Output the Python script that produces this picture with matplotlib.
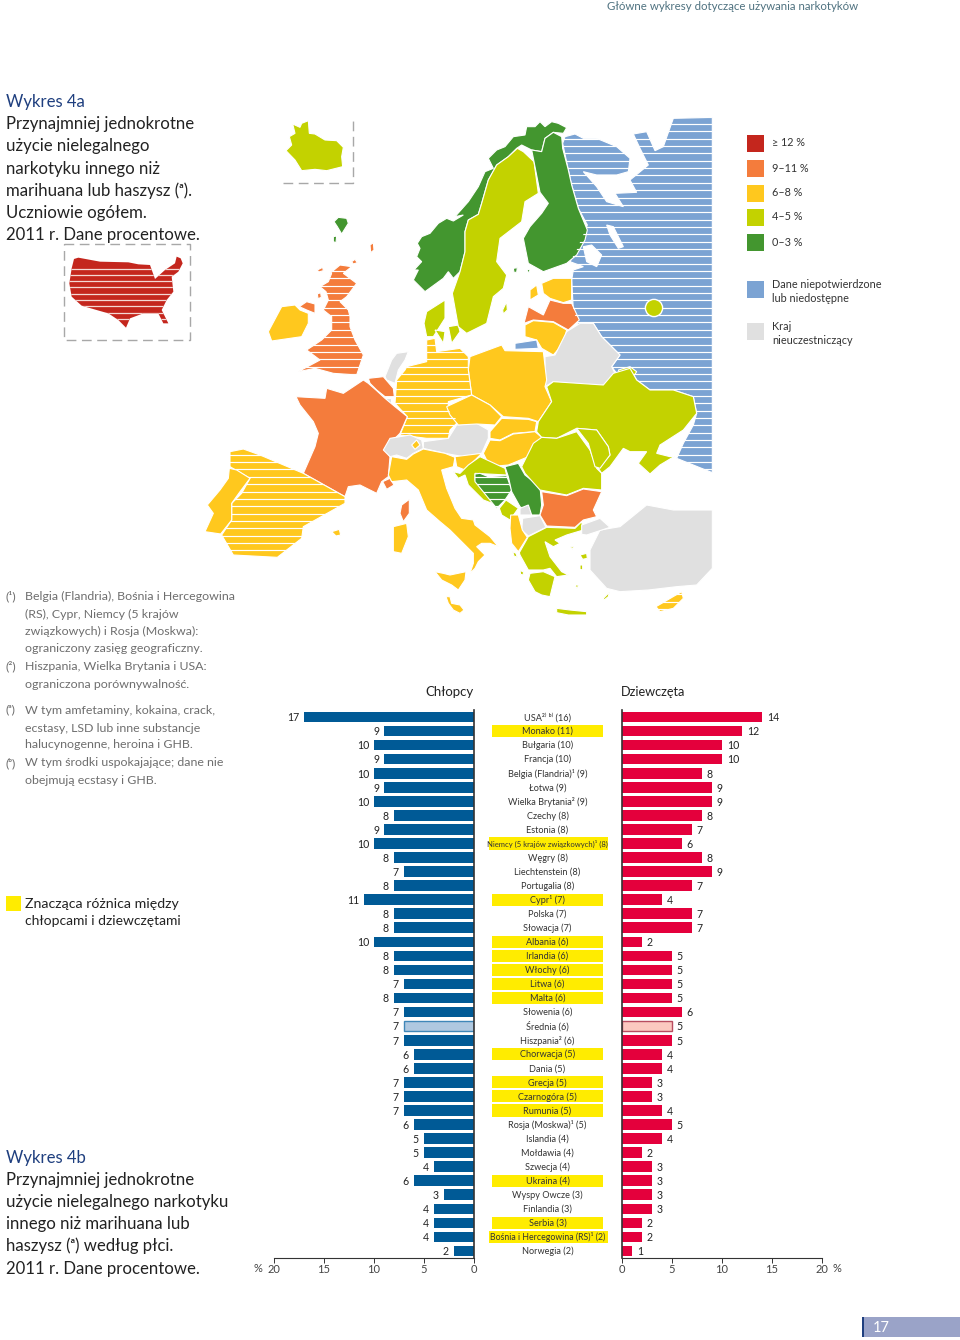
import numpy as np
import matplotlib
matplotlib.use('Agg')
import matplotlib.pyplot as plt
from matplotlib.patches import Polygon, Rectangle, Circle
from matplotlib.collections import LineCollection

plt.rcParams['font.family'] = ['Lato', 'DejaVu Sans']

# bar chart data, sorted like the reference
countries = ['USA²⁾ ᵇ⁾ (16)', 'Monako (11)', 'Bułgaria (10)', 'Francja (10)', 'Belgia (Flandria)¹ (9)',
             'Łotwa (9)', 'Wielka Brytania² (9)', 'Czechy (8)', 'Estonia (8)',
             'Niemcy (5 krajów związkowych)¹ (8)', 'Węgry (8)', 'Liechtenstein (8)', 'Portugalia (8)',
             'Cypr¹ (7)', 'Polska (7)', 'Słowacja (7)', 'Albania (6)', 'Irlandia (6)', 'Włochy (6)',
             'Litwa (6)', 'Malta (6)', 'Słowenia (6)', 'Średnia (6)', 'Hiszpania² (6)', 'Chorwacja (5)',
             'Dania (5)', 'Grecja (5)', 'Czarnogóra (5)', 'Rumunia (5)', 'Rosja (Moskwa)¹ (5)',
             'Islandia (4)', 'Mołdawia (4)', 'Szwecja (4)', 'Ukraina (4)', 'Wyspy Owcze (3)',
             'Finlandia (3)', 'Serbia (3)', 'Bośnia i Hercegowina (RS)¹ (2)', 'Norwegia (2)']
boys = [17, 9, 10, 9, 10, 9, 10, 8, 9, 10, 8, 7, 8, 11, 8, 8, 10, 8, 8, 7, 8, 7, 7, 7, 6, 6, 7, 7, 7, 6,
        5, 5, 4, 6, 3, 4, 4, 4, 2]
girls = [14, 12, 10, 10, 8, 9, 9, 8, 7, 6, 8, 9, 7, 4, 7, 7, 2, 5, 5, 5, 5, 6, 5, 5, 4, 4, 3, 3, 4, 5,
         4, 2, 3, 3, 3, 3, 2, 2, 1]
significant = ['Monako', 'Niemcy', 'Cypr', 'Albania', 'Irlandia', 'Włochy', 'Litwa', 'Malta', 'Chorwacja',
               'Grecja', 'Czarnogóra', 'Rumunia', 'Ukraina', 'Serbia', 'Bośnia']
wide_labels = ['Niemcy', 'Bośnia']
ticks = [0, 5, 10, 15, 20]

# legend of the map
legend_labels = ['≥ 12 %', '9–11 %', '6–8 %', '4–5 %', '0–3 %']
legend_keys = ['red', 'orange', 'yellow', 'lime', 'green']

COLORS = {'red': '#C4261D', 'orange': '#F47C3C', 'yellow': '#FFC81E', 'lime': '#C3D200',
          'green': '#43962F', 'blue': '#7BA3D3', 'grey': '#E0E0E0', 'white': 'white'}

# map outlines, traced in a 3x crop with origin (200, 110)
north_shapes = [
    ('blue', True, [(1095,80),(1125,72),(1150,85),(1190,85),(1250,110),(1290,145),(1285,185),(1250,195),(1190,195),(1150,185),(1190,230),(1220,275),(1270,290),(1245,250),(1310,247),(1290,210),(1345,165),(1320,115),(1300,72),(1340,65),(1365,122),(1390,110),(1420,25),(1537,22),(1537,1088),(1430,1045),(1450,1000),(1480,945),(1490,910),(1480,860),(1420,840),(1350,840),(1310,810),(1290,775),(1250,790),(1235,770),(1260,735),(1205,680),(1180,640),(1135,645),(1120,600),(1115,510),(1120,480),(1150,470),(1110,455),(1130,420),(1162,345),(1135,295),(1115,225),(1105,180),(1088,100)]),
    ('white', False, [(1150,410),(1175,405),(1205,435),(1190,470),(1160,455)]),
    ('white', False, [(1220,345),(1240,350),(1270,410),(1255,415),(1230,375)]),
    ('lime', False, [(258,122),(275,105),(268,80),(285,70),(278,42),(300,52),(305,40),(325,32),(328,70),(345,72),(375,90),(410,92),(430,112),(425,140),(428,170),(380,182),(345,178),(305,182),(285,150)]),
    ('green', False, [(402,335),(415,322),(440,325),(445,340),(425,372),(412,350)]),
    ('green', False, [(400,380),(410,378),(408,398),(400,395)]),
    ('orange', False, [(510,405),(520,398),(522,420),(512,428)]),
    ('lime', False, [(908,600),(920,575),(922,600),(910,612)]),
    ('yellow', False, [(1025,520),(1060,505),(1115,505),(1115,570),(1090,578),(1050,565),(1030,550)]),
    ('yellow', False, [(990,540),(1010,525),(1015,555),(990,570)]),
    ('orange', False, [(972,640),(985,590),(1030,615),(1050,570),(1090,580),(1115,580),(1138,630),(1105,660),(1060,635),(1000,630)]),
    ('yellow', False, [(975,645),(1000,632),(1060,637),(1100,660),(1090,700),(1060,735),(1025,715),(1010,690),(975,680)]),
    ('blue', False, [(945,700),(1010,690),(1015,715),(945,718)]),
    ('grey', False, [(1035,740),(1065,735),(1100,665),(1140,640),(1180,640),(1205,680),(1260,735),(1235,770),(1245,790),(1220,825),(1140,825),(1060,815),(1035,830)]),
    ('yellow', False, [(810,740),(905,705),(915,722),(1030,725),(1040,810),(1035,830),(1055,875),(1015,935),(985,925),(910,920),(870,885),(815,855),(805,780)]),
    ('yellow', True, [(620,770),(680,755),(680,690),(705,685),(710,725),(780,715),(805,740),(805,780),(815,855),(745,875),(745,900),(775,935),(750,960),(745,985),(680,985),(600,975),(622,920),(585,880),(590,810),(615,780)]),
    ('lime', False, [(672,640),(680,605),(735,570),(735,625),(700,680),(680,680)]),
    ('lime', False, [(705,660),(735,665),(730,700)]),
    ('lime', False, [(745,650),(775,645),(780,665),(755,700)]),
    ('orange', True, [(390,490),(420,465),(455,470),(430,490),(470,520),(440,560),(420,575),(445,600),(450,620),(450,650),(465,690),(490,735),(470,795),(400,790),(345,775),(295,785),(360,750),(320,720),(365,690),(395,660),(395,620),(370,600),(385,570),(378,545),(360,530),(385,515),(395,490)]),
    ('orange', False, [(298,590),(320,575),(345,582),(345,610),(320,600)]),
    ('orange', False, [(352,480),(368,472),(370,482),(356,486)]),
    ('orange', False, [(352,552),(362,548),(364,562),(354,566)]),
    ('orange', False, [(455,455),(465,448),(472,458),(460,462)]),
    ('yellow', False, [(205,665),(245,590),(285,585),(300,600),(325,610),(325,640),(305,680),(215,693)]),
    ('lime', False, [(1255,780),(1290,770),(1310,785),(1300,800),(1262,795)]),
]

# fennoscandia, 3x crop with origin (410, 115)
nordic_shapes = [
    ('green', False, [(10,495),(25,465),(12,465),(35,440),(20,425),(30,400),(22,385),(35,365),(60,355),(85,325),(110,310),(130,318),(160,300),(135,305),(175,260),(205,215),(225,170),(250,160),(235,130),(260,105),(285,95),(310,65),(345,60),(350,35),(375,35),(390,20),(405,35),(425,20),(445,25),(470,38),(460,55),(430,52),(405,70),(395,110),(365,105),(335,90),(320,100),(295,125),(260,150),(235,195),(215,265),(205,298),(175,315),(165,350),(165,410),(150,470),(130,490),(115,470),(100,490),(45,530)]),
    ('lime', False, [(322,100),(340,110),(372,140),(385,235),(345,260),(335,320),(270,370),(260,440),(290,480),(280,520),(250,545),(230,625),(170,655),(145,635),(127,535),(150,470),(165,410),(165,350),(175,315),(205,298),(215,265),(235,195),(260,150),(295,125)]),
    ('green', False, [(405,70),(430,52),(455,65),(458,100),(475,165),(485,210),(505,280),(532,345),(525,375),(500,420),(470,445),(400,470),(355,445),(340,370),(360,335),(395,295),(415,265),(390,232),(372,140),(365,105),(395,110)]),
    ('green', False, [(310,460),(322,458),(320,472),(312,472)]),
    ('green', False, [(352,462),(360,465),(358,472),(352,470)]),
]

# same crop as north_shapes, moved 240 px down
south_shapes = [
    ('grey', False, [(555,80),(575,30),(590,10),(625,5),(615,30),(595,60),(585,100),(560,90)]),
    ('orange', False, [(505,85),(550,80),(580,115),(583,140),(555,140),(530,120),(510,100)]),
    ('grey', False, [(558,145),(572,145),(572,165),(558,165)]),
    ('orange', False, [(288,140),(375,145),(380,115),(430,130),(490,90),(505,100),(530,122),(555,145),(585,170),(622,200),(600,250),(555,295),(570,320),(565,380),(545,395),(530,430),(480,405),(445,410),(435,440),(310,370),(345,290),(355,250),(340,215),(300,165)]),
    ('orange', False, [(548,395),(570,385),(582,405),(560,418)]),
    ('orange', False, [(605,465),(628,448),(628,490),(610,515),(600,490)]),
    ('yellow', True, [(90,305),(130,297),(180,315),(310,370),(435,440),(435,460),(310,530),(305,565),(232,622),(100,615),(65,555),(95,510),(95,460),(125,430),(150,385),(90,350)]),
    ('yellow', False, [(88,355),(110,360),(150,385),(120,425),(95,460),(95,510),(62,552),(15,545),(40,490),(22,465),(60,420),(85,385)]),
    ('yellow', False, [(395,545),(418,538),(422,555),(408,558)]),
    ('grey', False, [(550,300),(570,265),(630,255),(665,270),(670,295),(640,310),(620,325),(590,315),(570,320)]),
    ('yellow', False, [(635,285),(650,270),(660,285),(645,298)]),
    ('grey', False, [(670,275),(745,265),(770,225),(830,220),(865,240),(865,265),(845,310),(790,320),(735,310),(670,295)]),
    ('yellow', False, [(740,170),(815,135),(870,165),(905,200),(885,225),(830,222),(775,225),(750,195)]),
    ('yellow', False, [(870,245),(905,205),(985,208),(1010,215),(1005,245),(940,250),(900,270),(870,265)]),
    ('yellow', False, [(850,310),(870,270),(900,272),(940,252),(1005,245),(1025,262),(985,320),(925,345),(870,350)]),
    ('yellow', False, [(565,375),(575,320),(620,328),(640,312),(670,297),(735,310),(765,322),(760,350),(725,360),(740,415),(765,475),(785,505),(820,510),(825,525),(870,560),(895,590),(870,580),(845,580),(830,590),(855,615),(835,635),(825,655),(810,670),(820,640),(820,610),(790,580),(750,540),(720,515),(680,480),(655,420),(620,390),(575,395)]),
    ('yellow', False, [(705,665),(730,670),(750,675),(798,665),(795,690),(775,720),(755,705),(725,690)]),
    ('yellow', False, [(580,530),(620,520),(625,560),(605,610),(580,605)]),
    ('yellow', False, [(738,740),(750,740),(755,760),(780,765),(792,780),(780,790),(760,780),(745,760)]),
    ('lime', False, [(1040,110),(1060,95),(1210,105),(1240,70),(1290,55),(1310,90),(1350,120),(1420,120),(1480,140),(1490,190),(1450,240),(1380,285),(1370,310),(1410,320),(1425,318),(1380,345),(1350,372),(1315,340),(1340,305),(1290,305),(1270,295),(1230,350),(1205,370),(1195,355),(1230,315),(1225,290),(1190,240),(1130,235),(1070,265),(1025,262),(1010,245),(1015,215),(1055,155)]),
    ('grey', False, [(1170,600),(1200,540),(1260,530),(1340,465),(1420,480),(1537,480),(1537,655),(1490,705),(1430,710),(1345,720),(1260,725),(1220,715),(1170,660)]),
    ('yellow', True, [(1368,770),(1445,725),(1450,745),(1420,775),(1380,785)]),
]

# balkans, 3x crop with origin (440, 440)
balkan_shapes = [
    ('yellow', False, [(45,50),(125,40),(100,65),(75,90),(50,80)]),
    ('lime', False, [(40,95),(60,100),(85,75),(120,50),(195,85),(200,105),(105,100),(105,120),(170,195),(130,180),(85,135),(75,105),(55,115)]),
    ('green', True, [(105,102),(120,100),(145,110),(200,107),(215,150),(195,180),(170,205),(105,125)]),
    ('green', False, [(195,80),(235,70),(255,105),(300,140),(305,195),(300,225),(275,225),(240,200),(215,155),(205,110)]),
    ('lime', False, [(178,205),(198,180),(235,205),(210,240),(185,225)]),
    ('grey', False, [(240,205),(265,195),(275,225),(240,225)]),
    ('grey', False, [(248,235),(300,227),(318,262),(265,288),(245,270)]),
    ('yellow', False, [(212,225),(235,225),(247,270),(262,292),(235,335),(215,310),(210,265)]),
    ('lime', False, [(245,80),(280,10),(305,-8),(350,-5),(410,-25),(450,30),(470,85),(485,100),(485,150),(430,145),(380,165),(300,150),(255,100)]),
    ('lime', False, [(410,-35),(470,-30),(505,20),(510,45),(480,85),(465,80),(445,10)]),
    ('orange', False, [(305,155),(380,167),(430,147),(485,155),(460,210),(470,230),(430,240),(405,262),(320,258),(300,225),(310,195)]),
    ('lime', False, [(238,338),(265,290),(320,262),(405,265),(425,245),(430,270),(380,285),(345,300),(360,310),(340,320),(315,305),(330,350),(365,395),(385,405),(350,410),(330,385),(310,390),(265,390),(240,345)]),
    ('lime', False, [(270,400),(310,395),(345,410),(330,470),(305,465),(285,455),(265,420)]),
    ('lime', False, [(350,505),(390,510),(440,515),(440,525),(385,525),(350,518)]),
    ('lime', False, [(218,335),(228,340),(232,352),(222,348)]),
    ('lime', False, [(240,392),(250,395),(250,405),(242,403)]),
    ('lime', False, [(420,345),(440,340),(442,355),(428,358)]),
    ('lime', False, [(420,375),(428,375),(428,390),(420,388)]),
    ('lime', False, [(405,435),(415,435),(412,447)]),
    ('lime', False, [(490,475),(508,457),(505,470),(492,480)]),
    ('lime', False, [(390,320),(400,320),(398,328)]),
    ('grey', False, [(425,255),(480,235),(510,262),(440,285),(425,283)]),
]

# USA inset, 3x crop with origin (50, 235)
usa_shape = [(72,72),(85,68),(150,80),(235,82),(265,88),(300,90),(315,132),(345,105),(375,85),(380,65),(392,70),(398,85),(385,110),(365,125),(370,170),(350,195),(335,225),(355,265),(340,265),(325,235),(280,235),(240,250),(228,278),(205,255),(175,235),(150,228),(95,212),(65,185),(58,145),(65,100)]

title_4a = ['Przynajmniej jednokrotne', 'użycie nielegalnego', 'narkotyku innego niż',
            'marihuana lub haszysz (ᵃ).', 'Uczniowie ogółem.', '2011 r. Dane procentowe.']
title_4b = ['Przynajmniej jednokrotne', 'użycie nielegalnego narkotyku', 'innego niż marihuana lub',
            'haszysz (ᵃ) według płci.', '2011 r. Dane procentowe.']
notes = [(596, '(¹)', 'Belgia (Flandria), Bośnia i Hercegowina'), (614, '', '(RS), Cypr, Niemcy (5 krajów'),
         (631, '', 'związkowych) i Rosja (Moskwa):'), (649, '', 'ograniczony zasięg geograficzny.'),
         (666, '(²)', 'Hiszpania, Wielka Brytania i USA:'), (684, '', 'ograniczona porównywalność.'),
         (710, '(ᵃ)', 'W tym amfetaminy, kokaina, crack,'), (728, '', 'ecstasy, LSD lub inne substancje'),
         (745, '', 'halucynogenne, heroina i GHB.'), (763, '(ᵇ)', 'W tym środki uspokajające; dane nie'),
         (780, '', 'obejmują ecstasy i GHB.')]

NAVY = '#1F3F7F'
DARK = '#222222'
GREY_TEXT = '#6E6E6E'
BOY = '#005A96'
GIRL = '#E4003C'

W, H = 960, 1340
fig = plt.figure(figsize=(W / 100, H / 100), dpi=100)

page = fig.add_axes([0, 0, 1, 1])
page.set_xlim(0, W)
page.set_ylim(H, 0)
page.axis('off')


def to_page(points, x0, y0):
    return [(x0 + x / 3, y0 + y / 3) for x, y in points]


def draw_shape(points, color, striped, step=7.35):
    patch = Polygon(points, closed=True, facecolor=COLORS[color], edgecolor='white', linewidth=0.8, zorder=2)
    page.add_patch(patch)
    if striped:
        ys = np.arange(102, 625, step)
        lines = LineCollection([[(0, y), (W, y)] for y in ys], colors='white', linewidths=0.85, zorder=3)
        page.add_collection(lines)
        lines.set_clip_path(patch)


for shapes, x0, y0 in [(north_shapes, 200, 110), (nordic_shapes, 410, 115), (south_shapes, 200, 350),
                       (balkan_shapes, 440, 440)]:
    for color, striped, points in shapes:
        draw_shape(to_page(points, x0, y0), color, striped)
page.add_patch(Circle((654, 308), 8.6, facecolor=COLORS['lime'], edgecolor='white', linewidth=1, zorder=4))

# USA with finer stripes
usa_color = COLORS['red']
usa = Polygon(to_page(usa_shape, 50, 235), closed=True, facecolor=usa_color, edgecolor='none', zorder=2)
page.add_patch(usa)
usa_lines = LineCollection([[(0, y), (W, y)] for y in np.arange(268.5, 320, 6.3)], colors='#F4D8D4',
                           linewidths=0.9, zorder=3)
page.add_collection(usa_lines)
usa_lines.set_clip_path(usa)

# dashed inset frames
dash = dict(color='#A8A8A8', linewidth=1, linestyle=(0, (7, 4)), zorder=1)
page.plot([63.5, 189.5, 189.5, 63.5, 63.5], [244, 244, 340, 340, 244], **dash)
page.plot([283, 353, 353], [183, 183, 117], **dash)

# map legend
legend_y = [143, 168, 193, 217, 242]
for y, key, label in zip(legend_y, legend_keys, legend_labels):
    page.add_patch(Rectangle((747, y - 8.5), 17, 17, color=COLORS[key], linewidth=0))
    page.text(772, y, label, fontsize=7.8, color='#333333', va='center')
page.add_patch(Rectangle((747, 280.5), 17, 17, color=COLORS['blue'], linewidth=0))
page.text(772, 284, 'Dane niepotwierdzone', fontsize=7.8, color='#333333', va='center')
page.text(772, 298, 'lub niedostępne', fontsize=7.8, color='#333333', va='center')
page.add_patch(Rectangle((747, 323), 17, 17, color=COLORS['grey'], linewidth=0))
page.text(772, 326, 'Kraj', fontsize=7.8, color='#333333', va='center')
page.text(772, 340, 'nieuczestniczący', fontsize=7.8, color='#333333', va='center')

# left column texts
page.text(6, 102, 'Wykres 4a', fontsize=12.1, color=NAVY, va='center')
for y, line in zip([124, 146, 169, 191, 213, 235], title_4a):
    page.text(6, y, line, fontsize=12.1, color=DARK, va='center')
page.text(6, 1158, 'Wykres 4b', fontsize=12.1, color=NAVY, va='center')
for y, line in zip([1180, 1202, 1224, 1246, 1269], title_4b):
    page.text(6, y, line, fontsize=12.1, color=DARK, va='center')
for y, mark, line in notes:
    if mark:
        page.text(6, y, mark, fontsize=8.95, color=GREY_TEXT, va='center')
    page.text(25, y, line, fontsize=8.95, color=GREY_TEXT, va='center')

page.add_patch(Rectangle((6, 896), 15, 15, color='#FFEC00', linewidth=0))
page.text(25, 904, 'Znacząca różnica między', fontsize=10.2, color=DARK, va='center')
page.text(25, 921, 'chłopcami i dziewczętami', fontsize=10, color=DARK, va='center')

# header and page number
page.text(607, 6, 'Główne wykresy dotyczące używania narkotyków', fontsize=8.3, color='#4F7280', va='center')
page.add_patch(Rectangle((862, 1317), 98, 20, color='#9AA3C8', linewidth=0))
page.add_patch(Rectangle((862, 1317), 2, 20, color=NAVY, linewidth=0))
page.text(873, 1328, '17', fontsize=10.5, color='white', va='center')

page.text(425, 692, 'Chłopcy', fontsize=9.5, color=DARK, va='center')
page.text(621, 692, 'Dziewczęta', fontsize=9.2, color=DARK, va='center')
page.text(258, 1268, '%', fontsize=8, color='#444444', va='center', ha='center')
page.text(837, 1268, '%', fontsize=8, color='#444444', va='center', ha='center')

# butterfly chart
rows = np.arange(len(countries))
row0, row_step = 717, (1251 - 717) / 38
ax_top, ax_bottom = 710, 1257.5
row_lim = ((ax_bottom - row0) / row_step, (ax_top - row0) / row_step)


def bar_axes(x_left, x_right):
    ax = fig.add_axes([x_left / W, 1 - ax_bottom / H, (x_right - x_left) / W, (ax_bottom - ax_top) / H])
    ax.patch.set_alpha(0)
    ax.set_ylim(*row_lim)
    ax.set_yticks([])
    ax.set_xticks(ticks)
    ax.tick_params(axis='x', length=3.5, width=0.7, labelsize=8, labelcolor='#444444', pad=1, color='#333333')
    for side in ['top', 'left', 'right', 'bottom']:
        ax.spines[side].set_visible(False)
    ax.spines['bottom'].set_visible(True)
    ax.spines['bottom'].set_linewidth(0.8)
    ax.spines['bottom'].set_color('#333333')
    return ax


ax_boys = bar_axes(274, 473.5)
ax_boys.set_xlim(20, 0)
ax_girls = bar_axes(622, 822)
ax_girls.set_xlim(0, 20)

mean_row = [c.startswith('Średnia') for c in countries]
for ax, values, color, light, edge in [(ax_boys, boys, BOY, '#AFC8E0', '#3F87B8'),
                                       (ax_girls, girls, GIRL, '#FBC8C0', '#B84C60')]:
    bars = ax.barh(rows, values, height=0.76, color=color)
    for bar, is_mean in zip(bars, mean_row):
        if is_mean:
            bar.set_facecolor(light)
            bar.set_edgecolor(edge)
            bar.set_linewidth(1)
    # labels sit a touch low in the reference
    for label in ax.bar_label(bars, padding=3.4, fontsize=7.6, color=DARK):
        label.xyann = (label.xyann[0], label.xyann[1] - 0.6)
    ax.axvline(0, color='#333333', linewidth=1.2, clip_on=False)

# middle column with country names
ax_names = fig.add_axes([474 / W, 1 - ax_bottom / H, 148 / W, (ax_bottom - ax_top) / H])
ax_names.set_xlim(474, 622)
ax_names.set_ylim(*row_lim)
ax_names.axis('off')
for row, name in zip(rows, countries):
    key = name.split(' ')[0].rstrip('¹²')
    size = 6.55
    if key == 'Niemcy':
        size = 5.5
    elif key == 'Bośnia':
        size = 6.3
    if key in significant:
        if key in wide_labels:
            ax_names.barh(row, 118, left=489.5, height=0.86, color='#FFEC00')
        else:
            ax_names.barh(row, 111, left=492, height=0.86, color='#FFEC00')
    ax_names.text(547.5, row + 0.03, name, fontsize=size, color='#333333', ha='center', va='center')

fig.savefig('out.png', dpi=100)
